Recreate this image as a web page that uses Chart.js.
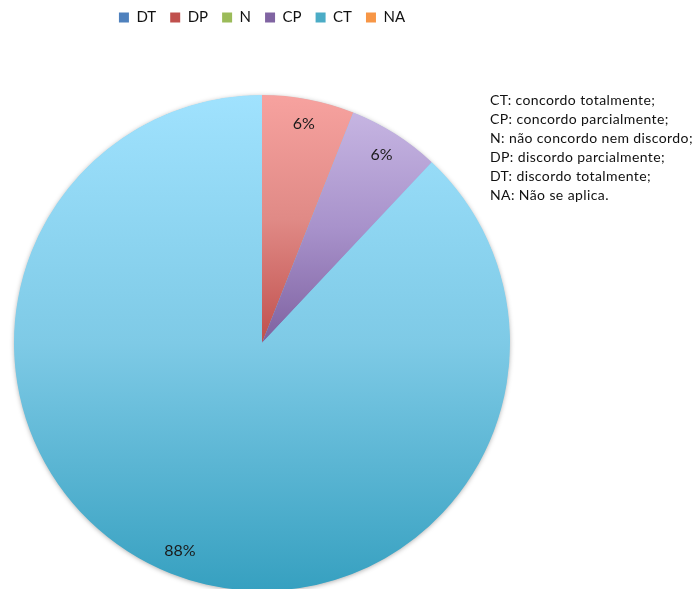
<!DOCTYPE html>
<html>
<head>
<meta charset="utf-8">
<script src="https://cdn.jsdelivr.net/npm/chart.js@4/dist/chart.umd.min.js"></script>
<style>
  html, body { margin: 0; padding: 0; background: #fff; overflow: hidden; }
  body { width: 697px; height: 589px; position: relative; }
  #wrap { position: absolute; left: 0; top: 0; width: 524px; height: 651px; }
  #notes {
    position: absolute; left: 490px; top: 90px;
    font-family: Lato, "Liberation Sans", sans-serif; font-size: 14px;
    line-height: 19px; color: #111; white-space: nowrap; letter-spacing: 0.4px;
  }
</style>
</head>
<body>
<div id="wrap"><canvas id="chart"></canvas></div>
<div id="notes">
  CT: concordo totalmente;<br>
  CP: concordo parcialmente;<br>
  N: não concordo nem discordo;<br>
  DP: discordo parcialmente;<br>
  DT: discordo totalmente;<br>
  NA: Não se aplica.
</div>
<script>
// Response categories and their share of answers (percent)
const categories = ['DT', 'DP', 'N', 'CP', 'CT', 'NA'];
const shares = [0, 6, 0, 6, 88, 0];

// Base colours for the legend, plus light/dark gradient stops for the slices
const baseColors = ['#4F81BD', '#C0504D', '#9BBB59', '#8064A2', '#4BACC6', '#F79646'];
const lightStops = ['#A7C0E8', '#F7A29F', '#D2EBA8', '#C6B5E2', '#A0E2FE', '#FCC49A'];
const midStops   = ['#7C9FD4', '#E08A86', '#B8D482', '#A892CB', '#7ECAE6', '#F9AA72'];
const darkStops  = ['#4F81BD', '#C0504D', '#9BBB59', '#7E61A0', '#36A0C0', '#F79646'];

// Vertical extent of an arc slice (used to stretch each gradient over its slice)
function sliceExtent(arc) {
  const {x, y, startAngle, endAngle, outerRadius} = arc;
  let top = y, bottom = y;
  const check = (a) => {
    const py = y + Math.sin(a) * outerRadius;
    top = Math.min(top, py); bottom = Math.max(bottom, py);
  };
  check(startAngle); check(endAngle);
  for (let k = -4; k <= 4; k++) {
    const a = k * Math.PI / 2;
    if (a > startAngle && a < endAngle) check(a);
  }
  return {top, bottom};
}

const gradientSlices = {
  id: 'gradientSlices',
  beforeDatasetsDraw(chart) {
    const ctx = chart.ctx;
    const meta = chart.getDatasetMeta(0);
    const first = meta.data[0];
    // soft drop shadow under the whole pie
    ctx.save();
    ctx.shadowColor = 'rgba(0,0,0,0.35)';
    ctx.shadowBlur = 5;
    ctx.shadowOffsetX = 0;
    ctx.shadowOffsetY = 1;
    ctx.fillStyle = '#7ECAE6';
    ctx.beginPath();
    ctx.arc(first.x, first.y, first.outerRadius - 0.5, 0, Math.PI * 2);
    ctx.fill();
    ctx.restore();
    meta.data.forEach((arc, i) => {
      const {top, bottom} = sliceExtent(arc);
      const g = ctx.createLinearGradient(0, top, 0, Math.max(bottom, top + 1));
      g.addColorStop(0, lightStops[i]);
      g.addColorStop(0.5, midStops[i]);
      g.addColorStop(1, darkStops[i]);
      arc.options.backgroundColor = g;
    });
  }
};

// Percent labels placed along each slice's middle angle
const sliceLabels = {
  id: 'sliceLabels',
  afterDatasetsDraw(chart) {
    const ctx = chart.ctx;
    const meta = chart.getDatasetMeta(0);
    ctx.save();
    ctx.font = '16px Lato, "Liberation Sans", sans-serif';
    ctx.fillStyle = '#1a1a1a';
    ctx.textAlign = 'center';
    ctx.textBaseline = 'middle';
    meta.data.forEach((arc, i) => {
      if (!shares[i]) return;
      const mid = (arc.startAngle + arc.endAngle) / 2;
      const r = arc.outerRadius * 0.9;
      ctx.fillText(shares[i] + '%', arc.x + Math.cos(mid) * r, arc.y + Math.sin(mid) * r);
    });
    ctx.restore();
  }
};

new Chart(document.getElementById('chart'), {
  type: 'pie',
  data: {
    labels: categories,
    datasets: [{
      data: shares,
      backgroundColor: baseColors,
      borderWidth: 0
    }]
  },
  options: {
    responsive: true,
    maintainAspectRatio: false,
    animation: false,
    radius: 248,
    layout: { padding: { top: -4 } },
    plugins: {
      legend: {
        position: 'top',
        labels: {
          boxWidth: 10,
          boxHeight: 10,
          padding: 14,
          color: '#111',
          font: { family: 'Lato, "Liberation Sans", sans-serif', size: 15 }
        }
      },
      tooltip: { enabled: false }
    }
  },
  plugins: [gradientSlices, sliceLabels]
});
</script>
</body>
</html>
